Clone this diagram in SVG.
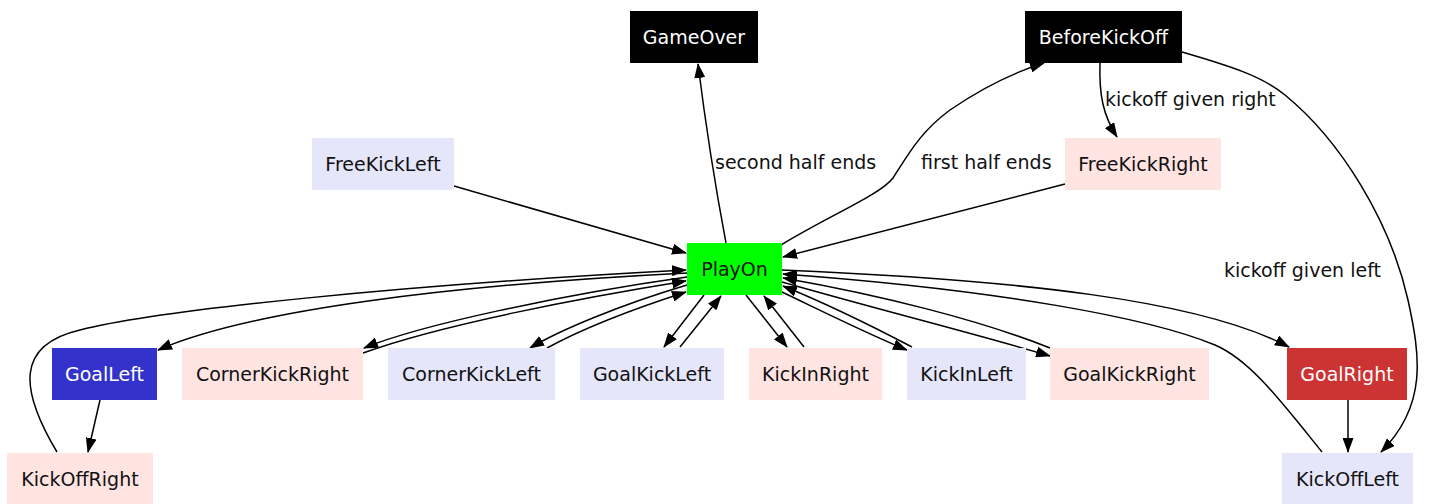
<svg xmlns="http://www.w3.org/2000/svg" width="1431" height="504" viewBox="0 0 1431 504">
<defs>
<marker id="arr" viewBox="0 0 15 11" refX="14" refY="5.5" markerWidth="15" markerHeight="11" markerUnits="userSpaceOnUse" orient="auto">
<path d="M0,0 L15,5.5 L0,11 Z" fill="#000"/>
</marker>
<style>
text{font-family:"DejaVu Sans","Liberation Sans",sans-serif;font-size:19px;text-anchor:middle;fill:#111}
.lbl{text-anchor:start}
.dark text,text.w{fill:#fff}
.lav{fill:#e6e6fa}
.rose{fill:#ffe4e1}
#edges path{fill:none;stroke:#000;stroke-width:1.5;marker-end:url(#arr)}
</style>
</defs>
<rect width="1431" height="504" fill="#fff"/>
<g id="edges">
<path d="M726,243 C716,190 705,120 698,64"/>
<path d="M781,245 C830,215 880,195 893,178 C908,155 920,132 950,110 C985,86 1015,72 1044,63"/>
<path d="M1100,63 C1099,95 1103,115 1117,137"/>
<path d="M1182,52 C1230,66 1262,76 1285,95 C1340,140 1390,220 1408,300 C1420,355 1428,405 1381,452"/>
<path d="M454,186 L686,253"/>
<path d="M1065,184 L783,257"/>
<path d="M687,273 C450,285 250,310 158,350"/>
<path d="M57,452 C20,390 15,345 80,330 C160,310 400,285 686,270"/>
<path d="M100,400 L88,452"/>
<path d="M687,277 C560,295 420,325 364,348"/>
<path d="M363,353 C440,325 580,298 686,281"/>
<path d="M687,285 C620,305 560,330 530,348"/>
<path d="M547,348 C580,330 630,310 686,292"/>
<path d="M704,295 L664,347"/>
<path d="M680,347 L721,296"/>
<path d="M746,295 L787,347"/>
<path d="M804,347 L764,296"/>
<path d="M782,292 C830,315 870,335 907,350"/>
<path d="M912,347 C870,325 830,305 783,286"/>
<path d="M782,282 C880,310 980,335 1050,356"/>
<path d="M1050,348 C980,320 880,295 783,278"/>
<path d="M782,270 C1020,280 1200,300 1289,347"/>
<path d="M1322,452 C1280,400 1250,360 1215,345 C1150,318 1000,290 783,274"/>
<path d="M1348,400 L1348,452"/>
</g>
<g id="elabels">
<text class="lbl" x="715" y="169">second half ends</text>
<text class="lbl" x="921" y="169">first half ends</text>
<text class="lbl" x="1105" y="106">kickoff given right</text>
<text class="lbl" x="1224" y="277">kickoff given left</text>
</g>
<g id="GameOver" class="dark"><rect x="630" y="11" width="128" height="52" fill="#000"/><text x="694" y="44">GameOver</text></g>
<g id="BeforeKickOff" class="dark"><rect x="1025" y="11" width="157" height="52" fill="#000"/><text x="1103.5" y="44">BeforeKickOff</text></g>
<g id="FreeKickLeft"><rect class="lav" x="312" y="138" width="142" height="52"/><text x="383" y="171">FreeKickLeft</text></g>
<g id="FreeKickRight"><rect class="rose" x="1065" y="138" width="156" height="52"/><text x="1143" y="171">FreeKickRight</text></g>
<g id="PlayOn"><rect x="687" y="243" width="95" height="52" fill="#00ff00"/><text x="734.5" y="276">PlayOn</text></g>
<g id="GoalLeft"><rect x="52" y="348" width="105" height="52" fill="#3333cc"/><text class="w" x="104.5" y="381">GoalLeft</text></g>
<g id="CornerKickRight"><rect class="rose" x="182" y="348" width="181" height="52"/><text x="272.5" y="381">CornerKickRight</text></g>
<g id="CornerKickLeft"><rect class="lav" x="388" y="348" width="167" height="52"/><text x="471.5" y="381">CornerKickLeft</text></g>
<g id="GoalKickLeft"><rect class="lav" x="580" y="348" width="144" height="52"/><text x="652" y="381">GoalKickLeft</text></g>
<g id="KickInRight"><rect class="rose" x="749" y="348" width="133" height="52"/><text x="815.5" y="381">KickInRight</text></g>
<g id="KickInLeft"><rect class="lav" x="907" y="348" width="119" height="52"/><text x="966.5" y="381">KickInLeft</text></g>
<g id="GoalKickRight"><rect class="rose" x="1050" y="348" width="159" height="52"/><text x="1129.5" y="381">GoalKickRight</text></g>
<g id="GoalRight"><rect x="1287" y="348" width="120" height="52" fill="#cc3333"/><text class="w" x="1347" y="381">GoalRight</text></g>
<g id="KickOffRight"><rect class="rose" x="7" y="453" width="146" height="52"/><text x="80" y="486">KickOffRight</text></g>
<g id="KickOffLeft"><rect class="lav" x="1282" y="453" width="131" height="52"/><text x="1347.5" y="486">KickOffLeft</text></g>
</svg>
